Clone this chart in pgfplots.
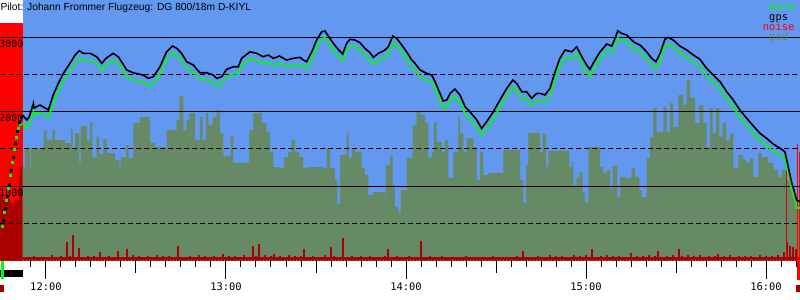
\documentclass[border=0pt]{standalone}
\usepackage{pgfplots}
\pgfplotsset{compat=1.18}
\usepackage{pgfplotstable}
\usepackage{fontspec}
\setmainfont{Liberation Sans}
\newfontfamily\pixfont{DejaVu Sans Mono}
\usetikzlibrary{backgrounds}
\definecolor{skyb}{RGB}{98,152,240}
\definecolor{gndc}{RGB}{102,138,102}
\definecolor{noisec}{RGB}{170,0,0}
\definecolor{barog}{RGB}{0,255,0}

% time in minutes after 12:00, altitude in m
\pgfplotstableread{
t gps baro
-7.8 1953 1845
-6.4 1886 1775
-5.6 1926 1820
-4.2 2110 1990
-4.0 2047 1960
-2.0 2087 1985
-0.3 2047 1950
0.8 2020 1915
2.4 2221 2110
4.1 2378 2275
5.8 2512 2410
8.0 2647 2550
9.7 2758 2660
11.1 2816 2720
12.4 2781 2690
14.7 2781 2690
16.9 2735 2645
18.6 2646 2555
20.0 2714 2625
22.4 2781 2690
24.1 2735 2645
25.2 2668 2575
26.9 2557 2465
29.1 2520 2425
32.4 2489 2395
34.1 2445 2350
35.8 2467 2375
38.0 2601 2505
40.2 2802 2710
42.2 2879 2790
43.6 2848 2755
45.2 2781 2690
46.9 2668 2580
49.1 2624 2530
51.3 2520 2430
53.6 2520 2430
55.8 2489 2395
56.9 2445 2350
58.6 2467 2375
60.2 2566 2470
62.4 2601 2505
64.1 2601 2505
65.2 2714 2620
68.0 2802 2710
70.2 2781 2690
72.4 2735 2645
74.1 2758 2665
75.8 2714 2620
77.8 2745 2655
80.2 2691 2600
82.4 2714 2620
84.7 2727 2635
85.8 2691 2600
86.9 2668 2575
88.6 2802 2710
90.2 2959 2865
91.9 3071 2980
93.0 3080 2990
94.1 3013 2920
95.8 2915 2825
97.4 2834 2740
98.9 2771 2680
100.2 2915 2825
101.3 2969 2875
103.0 2959 2865
104.7 2923 2830
106.3 2848 2755
108.0 2789 2695
109.1 2727 2635
110.8 2781 2690
113.0 2825 2735
114.1 2869 2775
115.6 3013 2920
116.9 2982 2890
118.6 2892 2800
120.2 2802 2710
121.9 2691 2600
123.0 2646 2555
124.7 2557 2465
126.9 2512 2420
128.6 2489 2395
129.7 2400 2305
131.1 2265 2170
132.4 2141 2045
133.6 2154 2060
134.7 2244 2150
136.3 2302 2210
138.0 2221 2125
139.7 2064 1970
141.3 1997 1905
143.6 1886 1790
145.2 1774 1680
146.9 1863 1770
149.1 1997 1905
151.3 2154 2060
153.6 2311 2215
155.6 2422 2330
156.9 2378 2285
158.6 2265 2170
160.2 2265 2170
161.9 2177 2085
163.6 2244 2150
164.7 2244 2150
166.3 2221 2125
168.0 2311 2215
169.7 2534 2440
171.3 2714 2620
173.0 2825 2735
175.2 2802 2710
176.9 2869 2775
178.6 2735 2645
180.2 2624 2530
181.3 2566 2470
183.0 2691 2600
184.7 2802 2710
186.9 2906 2815
188.6 2879 2790
189.7 2982 2890
190.6 3084 2990
191.9 3049 2955
193.6 3026 2935
195.8 2936 2845
198.0 2892 2800
200.2 2802 2710
201.9 2714 2620
203.3 2668 2575
204.7 2781 2690
206.3 2969 2875
207.4 2995 2905
209.1 2959 2865
211.3 2879 2790
213.6 2825 2735
215.8 2758 2665
218.0 2700 2605
220.2 2579 2485
222.4 2489 2395
224.7 2400 2305
226.9 2265 2170
229.1 2154 2060
231.3 2020 1925
233.6 1908 1815
235.8 1805 1710
238.0 1707 1615
240.2 1640 1545
242.4 1564 1470
244.7 1506 1410
246.3 1460 1380
247.4 1259 1180
248.6 1036 950
249.3 946 860
250.2 812 705
251.3 789 705
}\flight

\pgfplotstableread{
t g
-7.77 1255
-7.0 1510
-5.33 1255
-5.0 1510
-0.67 1751
0.23 1617
2.1 1751
3.0 1617
6.33 1577
8.33 1765
8.9 1510
9.67 1711
11.1 1309
11.57 1805
13.57 1617
14.67 1859
15.43 1389
16.9 1658
17.67 1429
19.1 1631
20.23 1443
23.0 1349
24.43 1255
24.9 1389
26.67 1550
27.57 1376
29.1 1845
31.33 1926
34.67 1577
36.33 1523
40.23 1751
43.57 1886
44.43 2208
45.77 1751
46.9 1886
47.77 1980
49.67 1617
51.33 1926
52.23 1617
53.33 1980
54.1 1819
55.57 1926
56.9 2020
58.0 1711
59.1 1403
61.57 1658
62.43 1309
67.77 1751
69.1 1980
71.9 1845
73.57 1725
74.67 1456
75.77 1255
78.0 1241
79.33 1389
80.77 1456
81.9 1617
83.0 1456
84.43 1389
85.77 1241
86.9 1255
92.43 1241
93.57 1510
94.67 1241
96.33 1080
97.1 758
98.0 1416
100.23 1711
100.9 1376
101.9 1510
103.0 1456
105.23 1241
106.33 1148
107.43 879
109.1 919
113.0 839
113.33 1282
114.67 1403
115.57 1013
116.33 718
117.43 638
118.23 946
120.23 1376
122.23 1819
123.57 1993
124.67 1953
126.33 1845
127.43 1376
128.57 1456
129.33 1859
130.23 1590
131.9 1456
133.0 1617
134.1 1107
135.77 1456
137.43 1926
138.0 1711
139.1 1456
140.23 1644
142.43 1523
143.57 1080
144.67 1456
145.77 1148
147.43 1174
152.43 1483
158.0 1080
159.1 772
160.0 1282
160.77 1711
164.67 1456
165.57 1698
166.67 1255
167.43 1470
174.43 1255
175.23 1322
175.77 1013
176.9 1121
177.77 1188
178.9 906
179.67 772
180.77 1523
184.67 1255
185.77 1174
186.9 1215
188.0 973
188.9 1268
190.43 852
191.33 1121
193.33 1107
195.23 1241
196.33 1121
197.77 946
198.57 852
200.23 1376
201.33 1658
202.43 2047
203.57 1725
205.77 2060
206.9 1725
208.0 2114
209.1 1792
210.77 2221
212.43 2087
213.57 2422
214.67 2181
216.33 1845
217.77 2087
219.1 1845
220.23 1510
221.33 2047
222.23 1711
223.33 2047
224.43 1658
225.57 1845
226.67 1617
228.0 1711
229.1 1241
230.77 1416
232.43 1349
233.57 1309
234.67 1376
235.77 1121
237.43 1443
238.57 1389
240.77 1309
242.43 1215
244.1 1121
245.23 1215
246.67 1080
248.0 946
249.1 879
250.23 718
251.33 718
}\ground

\pgfplotstableread{
t n
-7 30
-6 45
-5 20
-4 60
-3 35
-2 25
-1 50
0 40
1 30
2 70
3 45
4 25
5 55
6 35
7 255
8 60
9 342
10 45
11 172
12 50
13 30
14 65
15 40
16 55
17 35
18 120
19 45
20 30
21 60
22 40
23 25
24 134
25 50
26 35
27 161
28 45
29 70
30 30
31 55
32 40
33 25
34 60
35 45
36 35
37 80
38 40
39 55
40 30
41 65
42 45
43 30
44 188
45 50
46 40
47 25
48 60
49 35
50 45
51 70
52 30
53 55
54 40
55 25
56 65
57 45
58 35
59 90
60 40
61 55
62 30
63 60
64 45
65 35
66 80
67 50
68 40
69 200
70 60
71 215
72 45
73 70
74 35
75 55
76 90
77 40
78 60
79 30
80 50
81 75
82 40
83 65
84 35
85 55
86 148
87 45
88 30
89 60
90 40
91 50
92 35
93 70
94 45
95 181
96 55
97 40
98 30
99 306
100 50
101 35
102 65
103 45
104 30
105 55
106 40
107 25
108 60
109 35
110 50
111 30
112 45
113 65
114 148
115 40
116 30
117 55
118 35
119 45
120 25
121 60
122 40
123 30
124 50
125 262
126 45
127 35
128 55
129 30
130 45
131 25
132 60
133 40
134 30
135 50
136 35
137 25
138 45
139 30
140 55
141 35
142 25
143 40
144 30
145 50
146 25
147 45
148 35
149 60
150 30
151 40
152 25
153 50
154 35
155 45
156 30
157 55
158 40
159 121
160 35
161 50
162 30
163 45
164 60
165 35
166 50
167 40
168 70
169 30
170 55
171 40
172 65
173 35
174 50
175 45
176 80
177 40
178 55
179 35
180 70
181 45
182 154
183 50
184 35
185 60
186 40
187 75
188 45
189 55
190 35
191 65
192 40
193 50
194 30
195 107
196 45
197 60
198 35
199 55
200 40
201 70
202 45
203 60
204 134
205 50
206 35
207 65
208 45
209 80
210 50
211 161
212 55
213 40
214 70
215 45
216 60
217 35
218 75
219 50
220 40
221 65
222 45
223 55
224 90
225 40
226 60
227 35
228 70
229 50
230 45
231 65
232 40
233 55
234 35
235 60
236 45
237 50
238 70
239 40
240 55
241 35
242 60
243 45
244 70
245 50
246 120
247 242
248 200
249 180
250 150
}\noise

\pgfplotstableread{
t a
-15.33 900
-14.33 810
-13.0 830
-12.0 770
-10.33 810
-8.9 1255
-7.77 1255
}\strip

\begin{document}
\begin{tikzpicture}
\begin{axis}[
  scale only axis, width=800bp, height=260.5bp,
  xmin=-15.33, xmax=251.33, ymin=0, ymax=3497,
  clip=false,
  axis line style={draw=none},
  ytick=\empty,
  xtick={0,60,120,180,240}, xticklabels={{},{},{},{},{}},
  minor xtick={-5,0,...,250},
  extra x ticks={30,90,150,210},
  extra x tick labels={{},{},{},{}},
  extra x tick style={major tick length=12bp, tick align=outside},
  tick align=outside, tick pos=left,
  major tick length=18bp, minor tick length=6bp,
  every tick/.style={black, line width=1bp},
]
% blue sky background
\addplot[fill=skyb, draw=none] coordinates {(-7.77,3497) (251.33,3497)} \closedcycle;
% engine noise strip
\addplot[fill=red, draw=none] coordinates {(-15.33,3191) (-7.77,3191)} \closedcycle;
\addplot[const plot, fill=noisec, draw=none] table[x=t,y=a]{\strip} \closedcycle;
% ground
\addplot[const plot, fill=gndc, draw=none] table[x=t,y=g]{\ground} \closedcycle;
% noise
\addplot[noisec, line width=3.5bp] coordinates {(-7.77,24) (251.33,24)};
\addplot[ycomb, noisec, line width=2.2bp] table[x=t,y=n]{\noise};
\addplot[ycomb, red!85!black, line width=1bp] coordinates {(246.67,1201)};
\addplot[ycomb, red, line width=1.2bp] coordinates {(250.45,1560) (251.2,1450)};
% grid lines
\addplot[black, line width=1bp] coordinates {(-15.33,1000) (251.33,1000)};
\addplot[black, line width=1bp] coordinates {(-15.33,2000) (251.33,2000)};
\addplot[black, line width=1bp] coordinates {(-15.33,3000) (251.33,3000)};
\addplot[black, line width=1bp, dash pattern=on 5bp off 3bp] coordinates {(-15.33,500) (251.33,500)};
\addplot[black, line width=1bp, dash pattern=on 5bp off 3bp] coordinates {(-15.33,1500) (251.33,1500)};
\addplot[black, line width=1bp, dash pattern=on 5bp off 3bp] coordinates {(-15.33,2500) (251.33,2500)};
% baro and gps
\addplot[barog, line width=1.6bp] table[x=t,y=baro]{\flight};
\addplot[black, line width=1.6bp] table[x=t,y=gps]{\flight};
% climb under engine
\addplot[only marks, mark=square*, mark size=0.8bp, barog] coordinates {
(-14.67,463) (-14.0,651) (-13.33,812) (-12.67,973) (-12.0,1147) (-11.33,1322) (-10.67,1496) (-10.0,1657) (-9.33,1778) (-8.67,1832)};
\addplot[only marks, mark=square*, mark size=0.8bp, black] coordinates {
(-14.33,543) (-13.67,705) (-13.0,866) (-12.33,1027) (-11.67,1215) (-11.0,1389) (-10.33,1577) (-9.67,1738) (-9.0,1859) (-8.33,1926)};
% markers below the axis
\addplot[black, line width=7.7bp] coordinates {(-15.33,-174) (-7.77,-174)};
\addplot[barog, line width=3.3bp] coordinates {(-14.4,-7) (-14.4,-255)};
\addplot[noisec, line width=6.7bp] coordinates {(-15.33,-376) (-14.0,-376)};
\addplot[red, line width=2.7bp] coordinates {(250.9,-7) (250.9,-262)};
\addplot[noisec, line width=5bp] coordinates {(250.8,-330) (250.8,-420)};
% texts
\node[anchor=base west, inner sep=0pt, font=\fontsize{10.3}{12}\selectfont] at (axis cs:-15.2,3362) {Pilot: Johann Frommer Flugzeug: DG 800/18m D-KIYL};
\node[anchor=base west, inner sep=0pt, font=\pixfont\fontsize{10.5}{12}\selectfont, text=barog] at (axis cs:241,3352) {baro};
\node[anchor=base west, inner sep=0pt, font=\pixfont\fontsize{10.5}{12}\selectfont, text=black] at (axis cs:241,3228) {gps};
\node[anchor=base west, inner sep=0pt, font=\pixfont\fontsize{10.5}{12}\selectfont, text=red] at (axis cs:238.9,3084) {noise};
\node[anchor=base west, inner sep=0pt, font=\pixfont\fontsize{10.5}{12}\selectfont, text=gndc] at (axis cs:241,2959) {gnd};
\node[anchor=base, inner sep=0pt, font=\pixfont\fontsize{10}{11}\selectfont] at (axis cs:-11.57,2865) {3000};
\node[anchor=base, inner sep=0pt, font=\pixfont\fontsize{10}{11}\selectfont] at (axis cs:-11.57,1863) {2000};
\node[anchor=base, inner sep=0pt, font=\pixfont\fontsize{10}{11}\selectfont] at (axis cs:-11.57,856) {1000};
\node[anchor=base, inner sep=0pt, font=\pixfont\fontsize{10.5}{12}\selectfont] at (axis cs:0,-396) {12:00};
\node[anchor=base, inner sep=0pt, font=\pixfont\fontsize{10.5}{12}\selectfont] at (axis cs:60,-396) {13:00};
\node[anchor=base, inner sep=0pt, font=\pixfont\fontsize{10.5}{12}\selectfont] at (axis cs:120,-396) {14:00};
\node[anchor=base, inner sep=0pt, font=\pixfont\fontsize{10.5}{12}\selectfont] at (axis cs:180,-396) {15:00};
\node[anchor=base, inner sep=0pt, font=\pixfont\fontsize{10.5}{12}\selectfont] at (axis cs:240,-396) {16:00};
\end{axis}
\begin{scope}[on background layer]
\fill[white] (current axis.south west) ++(0,-39.5bp) rectangle (current axis.north east);
\end{scope}
\pgfresetboundingbox
\path[use as bounding box] (current axis.south west) ++(0,-39.5bp) rectangle (current axis.north east);
\end{tikzpicture}
\end{document}
